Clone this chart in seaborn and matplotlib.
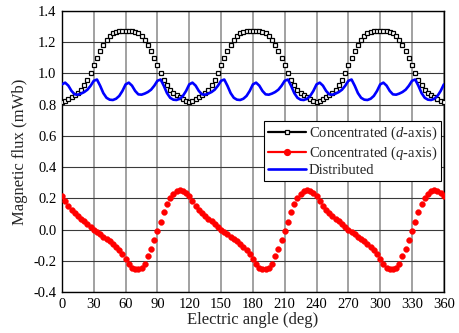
import numpy as np
import pandas as pd
import matplotlib
matplotlib.use("Agg")
import matplotlib.pyplot as plt
from matplotlib.lines import Line2D
import seaborn as sns

# ---------------- data ----------------
angles = list(range(0, 361, 3))

d_flux = [
    0.820, 0.826, 0.835, 0.846, 0.859, 0.875, 0.896, 0.925, 0.961, 1.003,
    1.055, 1.102, 1.146, 1.183, 1.214, 1.239, 1.257, 1.268, 1.272, 1.273,
    1.273, 1.273, 1.272, 1.268, 1.257, 1.239, 1.214, 1.183, 1.146, 1.102,
    1.055, 1.003, 0.961, 0.925, 0.896, 0.875, 0.859, 0.846, 0.835, 0.826,
    0.820, 0.826, 0.835, 0.846, 0.859, 0.875, 0.896, 0.925, 0.961, 1.003,
    1.055, 1.102, 1.146, 1.183, 1.214, 1.239, 1.257, 1.268, 1.272, 1.273,
    1.273, 1.273, 1.272, 1.268, 1.257, 1.239, 1.214, 1.183, 1.146, 1.102,
    1.055, 1.003, 0.961, 0.925, 0.896, 0.875, 0.859, 0.846, 0.835, 0.826,
    0.820, 0.826, 0.835, 0.846, 0.859, 0.875, 0.896, 0.925, 0.961, 1.003,
    1.055, 1.102, 1.146, 1.183, 1.214, 1.239, 1.257, 1.268, 1.272, 1.273,
    1.273, 1.273, 1.272, 1.268, 1.257, 1.239, 1.214, 1.183, 1.146, 1.102,
    1.055, 1.003, 0.961, 0.925, 0.896, 0.875, 0.859, 0.846, 0.835, 0.826,
    0.820,
]

q_flux = [
    0.212, 0.180, 0.152, 0.127, 0.105, 0.088, 0.070, 0.052, 0.035, 0.016,
    0.000, -0.015, -0.030, -0.045, -0.060, -0.075, -0.092, -0.110, -0.130, -0.158,
    -0.190, -0.222, -0.245, -0.255, -0.252, -0.243, -0.218, -0.172, -0.122, -0.066,
    -0.010, 0.050, 0.115, 0.162, 0.200, 0.225, 0.245, 0.252, 0.248, 0.235,
    0.212, 0.180, 0.152, 0.127, 0.105, 0.088, 0.070, 0.052, 0.035, 0.016,
    0.000, -0.015, -0.030, -0.045, -0.060, -0.075, -0.092, -0.110, -0.130, -0.158,
    -0.190, -0.222, -0.245, -0.255, -0.252, -0.243, -0.218, -0.172, -0.122, -0.066,
    -0.010, 0.050, 0.115, 0.162, 0.200, 0.225, 0.245, 0.252, 0.248, 0.235,
    0.212, 0.180, 0.152, 0.127, 0.105, 0.088, 0.070, 0.052, 0.035, 0.016,
    0.000, -0.015, -0.030, -0.045, -0.060, -0.075, -0.092, -0.110, -0.130, -0.158,
    -0.190, -0.222, -0.245, -0.255, -0.252, -0.243, -0.218, -0.172, -0.122, -0.066,
    -0.010, 0.050, 0.115, 0.162, 0.200, 0.225, 0.245, 0.252, 0.248, 0.235,
    0.212,
]

dist_flux = [
    0.930, 0.941, 0.922, 0.888, 0.866, 0.864, 0.871, 0.881, 0.896, 0.921,
    0.953, 0.961, 0.921, 0.874, 0.844, 0.832, 0.830, 0.838, 0.856, 0.888,
    0.930, 0.941, 0.922, 0.888, 0.866, 0.864, 0.871, 0.881, 0.896, 0.921,
    0.953, 0.961, 0.921, 0.874, 0.844, 0.832, 0.830, 0.838, 0.856, 0.888,
    0.930, 0.941, 0.922, 0.888, 0.866, 0.864, 0.871, 0.881, 0.896, 0.921,
    0.953, 0.961, 0.921, 0.874, 0.844, 0.832, 0.830, 0.838, 0.856, 0.888,
    0.930, 0.941, 0.922, 0.888, 0.866, 0.864, 0.871, 0.881, 0.896, 0.921,
    0.953, 0.961, 0.921, 0.874, 0.844, 0.832, 0.830, 0.838, 0.856, 0.888,
    0.930, 0.941, 0.922, 0.888, 0.866, 0.864, 0.871, 0.881, 0.896, 0.921,
    0.953, 0.961, 0.921, 0.874, 0.844, 0.832, 0.830, 0.838, 0.856, 0.888,
    0.930, 0.941, 0.922, 0.888, 0.866, 0.864, 0.871, 0.881, 0.896, 0.921,
    0.953, 0.961, 0.921, 0.874, 0.844, 0.832, 0.830, 0.838, 0.856, 0.888,
    0.930,
]

x_ticks = [0, 30, 60, 90, 120, 150, 180, 210, 240, 270, 300, 330, 360]
y_ticks = [-0.4, -0.2, 0.0, 0.2, 0.4, 0.6, 0.8, 1.0, 1.2, 1.4]
x_label = "Electric angle (deg)"
y_label = "Magnetic flux (mWb)"
labels = ["Concentrated ($d$-axis)", "Concentrated ($q$-axis)", "Distributed"]

df = pd.DataFrame({"angle": angles, "d": d_flux, "q": q_flux, "dist": dist_flux})

# ---------------- style ----------------
sns.set_style("white")
plt.rcParams["font.family"] = ["Liberation Serif", "DejaVu Serif"]
plt.rcParams["mathtext.fontset"] = "custom"
plt.rcParams["mathtext.rm"] = "Liberation Serif"
plt.rcParams["mathtext.it"] = "Liberation Serif:italic"

fig = plt.figure(figsize=(4.59, 3.33), dpi=100)
ax = fig.add_axes([0.135, 0.123, 0.832, 0.844])

sns.lineplot(data=df, x="angle", y="d", ax=ax, errorbar=None, legend=False,
             linestyle="", marker="s", markersize=3.3, markerfacecolor="white",
             markeredgecolor="black", markeredgewidth=0.9, color="black", zorder=3)
sns.lineplot(data=df, x="angle", y="q", ax=ax, errorbar=None, legend=False,
             linestyle="", marker="o", markersize=4.2, markerfacecolor="#ff0000",
             markeredgecolor="#ff0000", markeredgewidth=0.3, color="#ff0000", zorder=3)
sns.lineplot(data=df, x="angle", y="dist", ax=ax, errorbar=None, legend=False,
             color="#0000ff", linewidth=1.9, zorder=4)

ax.set_xlim(0, 360)
ax.set_ylim(-0.4, 1.4)
ax.set_xticks(x_ticks)
ax.set_yticks(y_ticks)
ax.set_xticklabels([str(t) for t in x_ticks])
ax.set_yticklabels([f"{t:.1f}" for t in y_ticks])
ax.tick_params(axis="both", length=0, labelsize=10.5, pad=4, colors="black")
ax.set_xlabel(x_label, fontsize=12, labelpad=1)
ax.set_ylabel(y_label, fontsize=12, labelpad=4)

ax.set_axisbelow(True)
ax.xaxis.grid(True, color="#9a9a9a", linewidth=1.3)
ax.yaxis.grid(True, color="#3a3a3a", linewidth=0.8)
for s in ax.spines.values():
    s.set_visible(True)
    s.set_color("black")
    s.set_linewidth(1.0)

handles = [
    Line2D([], [], color="black", linewidth=1.6, marker="s", markersize=3.3,
           markerfacecolor="white", markeredgecolor="black", markeredgewidth=0.9),
    Line2D([], [], color="#ff0000", linewidth=1.6, marker="o", markersize=4.2,
           markerfacecolor="#ff0000", markeredgecolor="#ff0000"),
    Line2D([], [], color="#0000ff", linewidth=1.9),
]
leg = ax.legend(handles, labels, loc="upper right", bbox_to_anchor=(0.992, 0.607),
                fontsize=10.5, frameon=True, fancybox=False, framealpha=1,
                edgecolor="black", borderpad=0.25, labelspacing=0.15,
                handlelength=2.6, handletextpad=0.2, borderaxespad=0)
leg.get_frame().set_linewidth(0.8)

fig.savefig("out.png", dpi=100)
